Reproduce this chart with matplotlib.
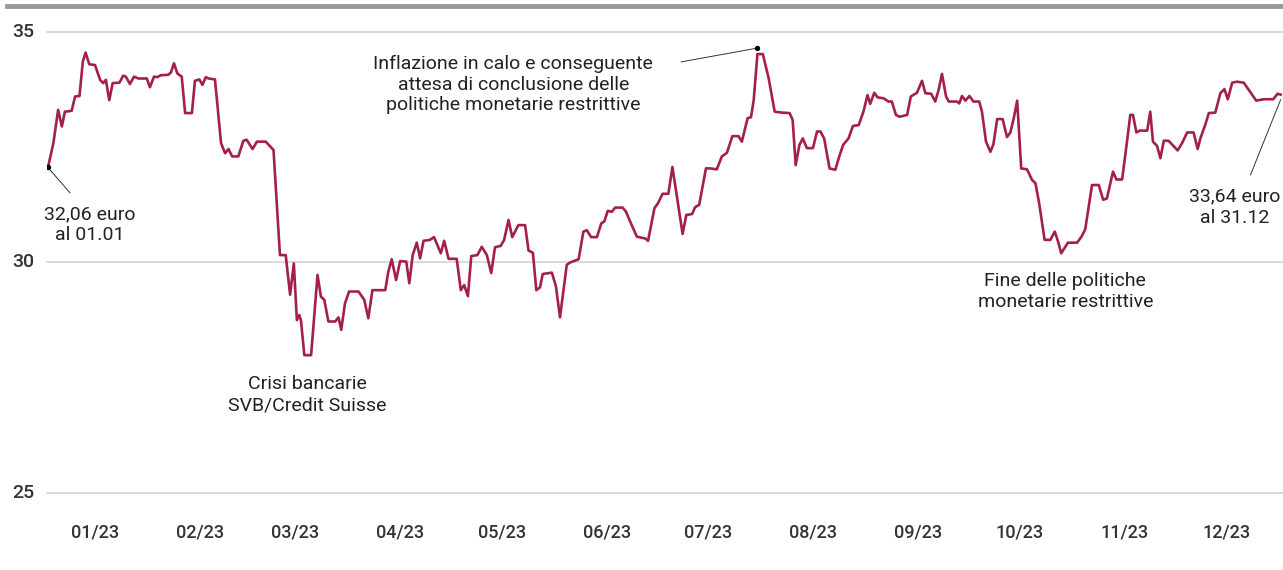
import matplotlib.pyplot as plt
from matplotlib.lines import Line2D

# Giorni dall'01.01.2023 e prezzo dell'azione (euro)
giorni = [0, 1.6, 3.0, 4.1, 5.0, 7.0, 8.0, 9.3, 10.3, 11.1, 12.2, 13.9, 15.4, 16.3, 17.1,
          18.1, 19.1, 21.1, 22.2, 23.0, 24.2, 25.4, 26.7, 29.2, 30.1, 31.3, 32.3, 33.3,
          35.5, 36.3, 37.2, 38.2, 39.5, 40.5, 42.5, 43.4, 44.7, 45.6, 46.6, 47.4, 49.3,
          49.8, 51.1, 52.3, 53.3, 54.4, 56.2, 57.7, 58.7, 60.4, 61.7, 64.3, 66.6, 68.5,
          70.2, 71.5, 72.6, 73.5, 74.2, 74.7, 75.7, 77.7, 79.6, 80.6, 81.6, 82.8, 84.8,
          85.8, 86.6, 87.7, 88.9, 91.7, 93.4, 94.6, 95.8, 99.6, 100.5, 101.5, 102.8,
          104.0, 105.8, 106.7, 107.7, 108.9, 109.9, 110.9, 112.8, 114.0, 116.0, 117.0,
          118.3, 120.7, 121.9, 122.9, 124.0, 125.0, 126.8, 128.1, 129.6, 130.9, 132.0,
          133.7, 134.7, 136.0, 137.1, 138.9, 140.9, 141.9, 143.2, 144.2, 145.3, 146.1,
          148.8, 150.0, 151.2, 153.2, 154.2, 156.7, 158.1, 159.1, 160.4, 162.1, 163.4,
          164.3, 165.3, 166.5, 167.5, 169.7, 170.7, 171.9, 173.9, 176.4, 177.2, 179.1,
          180.1, 181.5, 183.2, 184.4, 187.4, 188.5, 190.2, 191.1, 192.3, 194.3, 195.6,
          197.5, 199.0, 200.5, 202.1, 203.9, 204.9, 206.6, 207.6, 208.4, 209.5, 211.1,
          212.8, 214.6, 216.7, 219.0, 219.9, 220.8, 221.9, 222.9, 224.1, 225.9, 227.1,
          228.1, 229.2, 230.8, 232.5, 233.5, 234.8, 236.4, 237.7, 239.4, 240.8, 242.0,
          242.8, 244.0, 245.0, 246.8, 248.2, 249.2, 250.4, 251.5, 253.7, 254.8, 256.6,
          258.1, 259.1, 260.8, 262.0, 263.0, 264.0, 265.2, 266.0, 268.4, 269.1, 269.9,
          270.9, 272.1, 273.3, 275.0, 275.8, 277.0, 278.3, 279.2, 280.3, 281.9, 283.2,
          284.2, 285.2, 286.2, 287.4, 289.1, 290.6, 291.6, 292.7, 294.3, 296.0, 297.3,
          298.3, 299.2, 301.2, 303.9, 305.2, 306.3, 308.3, 310.3, 311.6, 312.7, 314.5,
          315.5, 317.2, 318.7, 319.6, 320.4, 321.4, 322.4, 324.6, 325.5, 326.3, 327.5,
          328.5, 329.5, 330.9, 333.6, 334.9, 336.4, 338.3, 339.5, 340.3, 341.8, 342.8,
          344.7, 346.2, 347.4, 348.4, 349.7, 351.1, 353.1, 354.9, 356.8, 359.0, 361.8,
          363.1, 364.0]
prezzo = [32.06, 32.59, 33.31, 32.95, 33.27, 33.29, 33.60, 33.61, 34.36, 34.55, 34.30,
          34.28, 33.96, 33.89, 33.96, 33.52, 33.89, 33.90, 34.05, 34.03, 33.87, 34.03,
          33.99, 33.99, 33.80, 34.03, 34.02, 34.06, 34.07, 34.12, 34.32, 34.10, 34.03,
          33.24, 33.24, 33.94, 33.97, 33.85, 34.02, 33.99, 33.97, 33.60, 32.59, 32.37,
          32.46, 32.30, 32.30, 32.64, 32.66, 32.46, 32.62, 32.62, 32.44, 30.16, 30.16,
          29.30, 29.98, 28.75, 28.86, 28.75, 27.99, 27.99, 29.73, 29.26, 29.19, 28.72,
          28.72, 28.81, 28.54, 29.11, 29.37, 29.37, 29.19, 28.79, 29.40, 29.40, 29.80,
          30.07, 29.62, 30.03, 30.02, 29.55, 30.16, 30.43, 30.09, 30.47, 30.49, 30.55,
          30.20, 30.47, 30.08, 30.08, 29.40, 29.51, 29.27, 30.14, 30.16, 30.34, 30.16,
          29.77, 30.33, 30.36, 30.49, 30.92, 30.55, 30.81, 30.81, 30.26, 30.21, 29.40,
          29.46, 29.75, 29.78, 29.48, 28.81, 29.95, 30.00, 30.07, 30.67, 30.70, 30.55,
          30.55, 30.85, 30.89, 31.12, 31.10, 31.19, 31.19, 31.10, 30.89, 30.56, 30.52,
          30.47, 31.18, 31.28, 31.49, 31.49, 32.07, 30.62, 31.03, 31.05, 31.20, 31.25,
          32.04, 32.04, 32.02, 32.30, 32.38, 32.74, 32.74, 32.62, 33.13, 33.15, 33.52,
          34.52, 34.52, 34.00, 33.27, 33.25, 33.24, 33.09, 32.11, 32.55, 32.69, 32.48,
          32.48, 32.84, 32.84, 32.69, 32.04, 32.01, 32.26, 32.55, 32.69, 32.96, 32.98,
          33.27, 33.63, 33.44, 33.68, 33.58, 33.56, 33.49, 33.49, 33.20, 33.16, 33.20,
          33.60, 33.68, 33.94, 33.67, 33.66, 33.49, 33.74, 34.09, 33.60, 33.49, 33.49,
          33.45, 33.61, 33.51, 33.61, 33.49, 33.49, 33.27, 32.62, 32.40, 32.57, 33.11,
          33.11, 32.72, 32.82, 33.13, 33.51, 32.04, 32.02, 31.79, 31.72, 31.28, 30.49,
          30.49, 30.67, 30.45, 30.20, 30.43, 30.43, 30.56, 30.72, 31.68, 31.68, 31.36,
          31.39, 31.97, 31.80, 31.80, 32.66, 33.20, 33.20, 32.82, 32.86, 32.86, 33.27,
          32.62, 32.53, 32.26, 32.64, 32.64, 32.43, 32.59, 32.82, 32.82, 32.46, 32.69,
          33.00, 33.24, 33.25, 33.67, 33.76, 33.54, 33.90, 33.92, 33.90, 33.71, 33.51,
          33.54, 33.54, 33.66, 33.64]

mesi = ['01/23', '02/23', '03/23', '04/23', '05/23', '06/23',
        '07/23', '08/23', '09/23', '10/23', '11/23', '12/23']
meta_mese = [14, 45, 73, 104, 134, 165, 195, 226, 257, 287, 318, 348]
valori_y = [25, 30, 35]

plt.rcParams['font.family'] = ['Roboto', 'DejaVu Sans']

fig = plt.figure(figsize=(12.83, 5.70), dpi=100)
ax = fig.add_axes([0.0366, 0.135, 0.9634, 0.809])

ax.plot(giorni, prezzo, color='#a3204c', lw=1.9, solid_joinstyle='round', zorder=3)

ax.set_xlim(-0.3, 364.7)
ax.set_ylim(25, 35)
ax.set_yticks(valori_y)
ax.set_yticklabels([str(v) for v in valori_y])
ax.set_xticks(meta_mese)
ax.set_xticklabels(mesi)
ax.grid(axis='y', color='#d0d0d0', lw=1.1)
for gl in ax.get_ygridlines():
    gl.set_clip_on(False)
ax.set_axisbelow(True)
for s in ax.spines.values():
    s.set_visible(False)
ax.tick_params(axis='both', length=0, colors='#333333')
ax.tick_params(axis='x', pad=22, labelsize=13)
ax.tick_params(axis='y', pad=9, labelsize=14)
for lab in ax.get_xticklabels() + ax.get_yticklabels():
    lab.set_fontweight('medium')
for lab in ax.get_yticklabels():
    lab.set_verticalalignment('center')

# barra grigia in alto
fig.add_artist(Line2D([0.0055, 1.0], [0.990, 0.990], color='#9a9a9a', lw=3.5))

# punti e linee di richiamo
ax.scatter([giorni[0], 209.5], [prezzo[0], 34.65], s=8, color='black', zorder=4)
ax.plot([0, 6.5], [32.06, 31.51], color='#333333', lw=0.7)
ax.plot([209.5, 187.0], [34.65, 34.35], color='#333333', lw=0.7)
ax.plot([364.0, 355.1], [33.53, 31.9], color='#333333', lw=0.7)

testo = dict(ha='center', va='center', fontsize=14, color='#222222', linespacing=1.2)
ax.text(12.4, 30.82, '32,06 euro\nal 01.01', **testo)
ax.text(137.4, 33.86, 'Inflazione in calo e conseguente\nattesa di conclusione delle\n'
        'politiche monetarie restrittive', **testo)
ax.text(76.5, 27.13, 'Crisi bancarie\nSVB/Credit Suisse', **testo)
ax.text(300.4, 29.37, 'Fine delle politiche\nmonetarie restrittive', **testo)
ax.text(350.4, 31.2, '33,64 euro\nal 31.12', **testo)

plt.savefig('out.png', dpi=100)
